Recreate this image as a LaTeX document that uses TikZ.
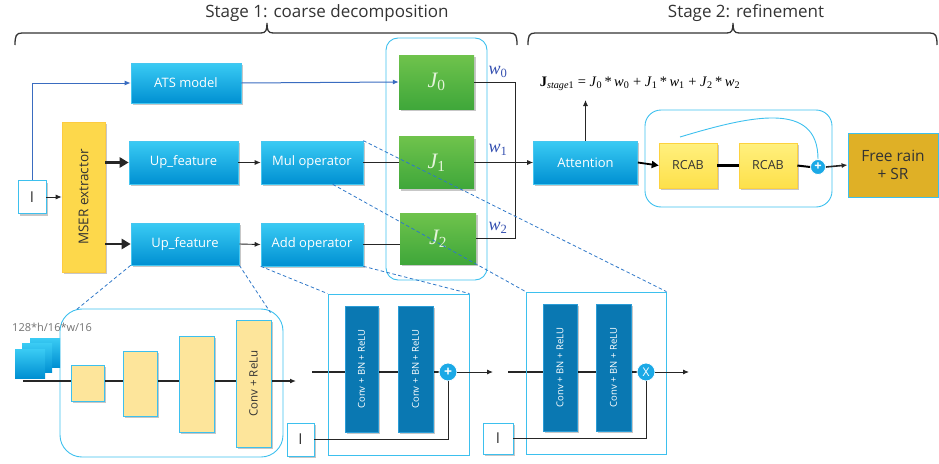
\documentclass[tikz,border=0pt]{standalone}
\usepackage{fontspec}
\setmainfont{Open Sans}
\newfontfamily\tms{Liberation Serif}
\newcommand{\sbx}[1]{\textsubscript{\upshape #1}}
\usetikzlibrary{arrows.meta,shadows,calc,backgrounds}
\definecolor{bxtop}{HTML}{3ACBF4}
\definecolor{bxbot}{HTML}{0090D2}
\definecolor{bxedge}{HTML}{45C6F0}
\definecolor{grtop}{HTML}{6FC34C}
\definecolor{grbot}{HTML}{3FA73A}
\definecolor{jtxt}{HTML}{E4F4DA}
\definecolor{cyanl}{HTML}{3DC0EE}
\definecolor{mseryel}{HTML}{FDD84B}
\definecolor{rcabtop}{HTML}{FFF07E}
\definecolor{rcabbot}{HTML}{FDE04A}
\definecolor{freegold}{HTML}{DFB026}
\definecolor{paleyel}{HTML}{FDE59B}
\definecolor{darkbar}{HTML}{0A78B2}
\definecolor{darkedge}{HTML}{2A9CD6}
\definecolor{wblue}{HTML}{3550B0}
\definecolor{lineblue}{HTML}{3A6CC0}
\definecolor{dashblue}{HTML}{2F78C8}
\definecolor{txtdark}{HTML}{333333}
\definecolor{ballblue}{HTML}{1BA9E6}
\begin{document}
\begin{tikzpicture}[x=1pt,y=-1pt,
  sz/.style 2 args={minimum width=#1pt,minimum height=#2pt,inner sep=0pt},
  shad/.style={drop shadow={shadow xshift=1.5pt,shadow yshift=-2pt,opacity=0.22,fill=black}},
  bluebox/.style={rectangle,top color=bxtop,bottom color=bxbot,draw=bxedge,line width=0.6pt,text=white,font=\fontsize{13}{15}\selectfont,shad},
  greenbox/.style={rectangle,top color=grtop,bottom color=grbot,draw=none,text=jtxt,font=\tms\itshape\fontsize{22}{24}\selectfont,shad},
  ibox/.style={rectangle,fill=white,draw=cyanl,line width=0.8pt,text=txtdark,font=\fontsize{15}{18}\selectfont,shad},
  grp/.style={rectangle,draw=cyanl,line width=0.9pt},
  mserbox/.style={rectangle,fill=mseryel,draw=mseryel!85!orange,line width=0.6pt,shad},
  rcabbox/.style={rectangle,top color=rcabtop,bottom color=rcabbot,draw=rcabbot!85!orange,line width=0.6pt,text=txtdark,font=\fontsize{12.5}{14}\selectfont,shad},
  freebox/.style={rectangle,fill=freegold,draw=cyanl,line width=0.8pt,text=txtdark,font=\fontsize{15.5}{18}\selectfont,align=center},
  paleb/.style={rectangle,fill=paleyel,draw=cyanl,line width=0.8pt,shad},
  stacksq/.style={rectangle,top color=bxtop,bottom color=bxbot,draw=none},
  barbox/.style={rectangle,fill=darkbar,draw=darkedge,line width=0.6pt,shad},
  barlbl/.style={rotate=90,text=white,font=\fontsize{9.5}{11}\selectfont},
  ball/.style={circle,fill=ballblue,draw=white,line width=0.8pt,text=white,inner sep=0pt},
  wlbl/.style={text=wblue,font=\tms\itshape\fontsize{18}{20}\selectfont},
  conn/.style={draw=black!85,line width=0.9pt},
  arr/.style={conn,-{Latex[length=6pt,width=5pt]}},
  thickarr/.style={draw=black!85,line width=2.6pt,-{Triangle[length=9pt,width=10pt]}},
  midarr/.style={draw=black,line width=1.8pt,-{Triangle[length=7pt,width=7pt]}},
  bluearr/.style={draw=lineblue,line width=1pt,-{Latex[length=6pt,width=5pt]}},
  dsh/.style={draw=dashblue,line width=0.8pt,dash pattern=on 3.5pt off 2.5pt},
  brc/.style={draw=black!80,line width=1.3pt}]
\useasboundingbox (0,0) rectangle (939,463);

% titles and brackets
\node[font=\fontsize{17}{20}\selectfont,text=txtdark] (t1) at (327,13) {Stage 1: coarse decomposition};
\node[font=\fontsize{17}{20}\selectfont,text=txtdark] (t2) at (746,13) {Stage 2: refinement};
\draw[brc] (15,45) .. controls (15,36) and (16,33) .. (22,33) -- (261,33)
  .. controls (266,33) and (267,30) .. (267,23) .. controls (267,30) and (268,33) .. (273,33)
  -- (510,33) .. controls (516,33) and (517,36) .. (517,45);
\draw[brc] (528,45) .. controls (528,36) and (529,33) .. (535,33) -- (727,33)
  .. controls (732,33) and (733,30) .. (733,23) .. controls (733,30) and (734,33) .. (739,33)
  -- (930,33) .. controls (936,33) and (937,36) .. (937,45);

% group frames
\node[grp,rounded corners=12pt,sz={101}{242}] (jgrp) at (436.5,159) {};
\node[grp,rounded corners=16pt,sz={187}{97}] (rgrp) at (738.5,158.5) {};
\node[grp,rounded corners=22pt,sz={223}{148}] (c1) at (171.5,383) {};
\node[grp,sz={141}{161}] (c2) at (398.5,374.5) {};
\node[grp,sz={140}{162}] (c3) at (596,373) {};

% stage 1 blocks
\node[ibox,sz={28}{33}] (in) at (32,197) {I};
\node[mserbox,sz={43}{150}] (mser) at (83.5,197) {};
\node[rotate=90,text=txtdark,font=\fontsize{13.5}{15}\selectfont] (mserlbl) at (mser.center) {MSER extractor};
\node[bluebox,sz={110}{40}] (ats) at (186,83) {ATS model};
\node[bluebox,sz={109}{43}] (up1) at (183.5,162.5) {Up\_feature};
\node[bluebox,sz={108}{42}] (up2) at (185,244) {Up\_feature};
\node[bluebox,sz={102}{43}] (mul) at (312,162.5) {Mul operator};
\node[bluebox,sz={102}{43}] (add) at (312,244.5) {Add operator};
\node[greenbox,sz={75}{54}] (j0) at (436.5,82) {J\sbx{0}};
\node[greenbox,sz={75}{52}] (j1) at (436.5,162.5) {J\sbx{1}};
\node[greenbox,sz={76}{51}] (j2) at (438,238.5) {J\sbx{2}};
\node[wlbl] (w0) at (498,72) {w\sbx{0}};
\node[wlbl] (w1) at (498,150) {w\sbx{1}};
\node[wlbl] (w2) at (498,228) {w\sbx{2}};

% stage 2 blocks
\node[bluebox,sz={104}{43}] (att) at (585.5,162.5) {Attention};
\node[font=\tms\fontsize{14.5}{16}\selectfont] (eq) at (640,84) {\textbf{J}\sbx{\textit{stage}1}~=~\textit{J}\sbx{0}\,*\,\textit{w}\sbx{0}~+~\textit{J}\sbx{1}\,*\,\textit{w}\sbx{1}~+~\textit{J}\sbx{2}\,*\,\textit{w}\sbx{2}};
\node[rcabbox,sz={58}{45}] (r1) at (688,165.5) {RCAB};
\node[rcabbox,sz={58}{45}] (r2) at (768,165.5) {RCAB};
\node[ball,minimum size=15pt,font=\fontsize{13}{13}\selectfont\bfseries] (pl) at (818,167) {+};
\node[freebox,sz={90}{64}] (free) at (893,165) {Free rain\\+ SR};

% connectors stage 1
\coordinate (bus) at (515,162.5);
\draw[bluearr] (in.north) |- (ats.west);
\draw[bluearr] (ats.east) -- (j0.west);
\draw[arr] (in.east) -- (in.east -| mser.west);
\draw[thickarr] (mser.east |- up1.west) -- (up1.west);
\draw[thickarr] (mser.east |- up2.west) -- (up2.west);
\draw[arr] (up1.east) -- (mul.west);
\draw[arr] (up2.east) -- (add.west);
\draw[conn] (mul.east) -- (j1.west);
\draw[conn] (add.east) -- (add.east -| j2.west);
\draw[conn] (j0.east) -| (bus);
\draw[conn] (j2.east) -| (bus);
\draw[arr] (j1.east) -- (att.west);

% connectors stage 2
\coordinate (eqin) at (585.5,100);
\draw[arr] (att.north) -- (eqin);
\draw[midarr] (att.east) -- (r1.west);
\draw[line width=2.6pt] (r1.east) -- (r2.west);
\draw[line width=2pt] (r2.east) -- (pl.west);
\draw[arr,line width=1.6pt] (pl.east) -- (free.west);
\coordinate (skip) at (680,137);
\draw[cyanl,line width=0.9pt] (skip) .. controls (750,116) and (818,100) .. (pl.north);

% detail 1: up feature
\node[font=\fontsize{11}{13}\selectfont,text=black!55] (dimlbl) at (52,327) {128*h/16*w/16};
\node[stacksq,sz={30}{29}] (s3) at (45,352.5) {};
\node[stacksq,sz={30}{29}] (s2) at (37,358) {};
\node[stacksq,sz={30}{29}] (s1) at (30,363.5) {};
\coordinate (lstart) at (23,381);
\coordinate (c1out) at (296,381);
\draw[arr,line width=1.2pt] (lstart) -- (c1out);
\node[paleb,sz={33}{36}] (b1) at (87.5,383) {};
\node[paleb,sz={34}{65}] (b2) at (140,383.5) {};
\node[paleb,sz={35}{96}] (b3) at (196.5,384) {};
\node[paleb,sz={35}{127}] (b4) at (253.5,383.5) {};
\node[rotate=90,font=\fontsize{11.5}{13}\selectfont,text=txtdark] (b4lbl) at (b4.center) {Conv + ReLu};

% detail 2: add operator
\node[barbox,sz={33}{126}] (bar1) at (361.5,369) {};
\node[barlbl] (bar1l) at (bar1.center) {Conv + BN + ReLU};
\node[barbox,sz={35}{126}] (bar2) at (415.5,369) {};
\node[barlbl] (bar2l) at (bar2.center) {Conv + BN + ReLU};
\node[ball,minimum size=18pt,font=\fontsize{14}{14}\selectfont\bfseries] (pl2) at (448,372) {+};
\node[ibox,sz={27}{33}] (i2) at (300.5,439.5) {I};
\coordinate (c2in) at (312,372);
\coordinate (c2out) at (493,372);
\draw[arr] (pl2.east) -- (c2out);
\draw[conn,line width=0.8pt] (i2.east) -| (pl2.south);

% detail 3: mul operator
\node[barbox,sz={34}{127}] (bar3) at (560,367.5) {};
\node[barlbl] (bar3l) at (bar3.center) {Conv + BN + ReLU};
\node[barbox,sz={35}{127}] (bar4) at (613.5,367.5) {};
\node[barlbl] (bar4l) at (bar4.center) {Conv + BN + ReLU};
\node[ball,minimum size=18pt,font=\fontsize{12}{12}\selectfont] (tm) at (646,372) {X};
\node[ibox,sz={30}{31}] (i3) at (498,438.5) {I};
\coordinate (c3in) at (508,372);
\coordinate (c3out) at (689,372);
\draw[arr] (tm.east) -- (c3out);
\draw[conn,line width=0.8pt] (i3.east) -| (tm.south);

\begin{scope}[on background layer]
\draw[conn,line width=1.2pt] (c2in) -- (pl2.west);
\draw[conn,line width=1.2pt] (c3in) -- (tm.west);
\end{scope}

% zoom guides
\draw[dsh] (up2.south west) -- ($(c1.north west)+(17,1)$);
\draw[dsh] (up2.south east) -- ($(c1.north east)+(-13,4)$);
\draw[dsh] (add.south west) -- (c2.north west);
\draw[dsh] (add.south east) -- (c2.north east);
\draw[dsh] (mul.north east) -- (c3.north east);
\draw[dsh] ($(mul.south west)+(72,0)$) -- (c3.north west);
\end{tikzpicture}
\end{document}
